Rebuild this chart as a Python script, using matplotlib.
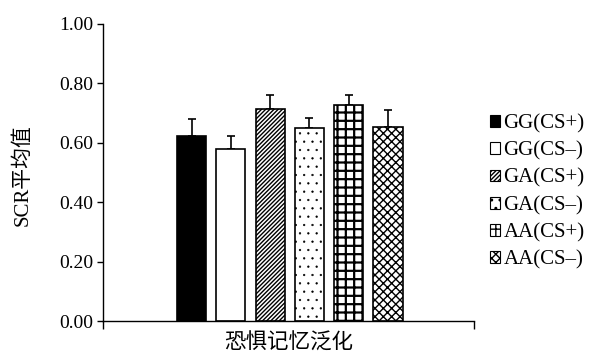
import numpy as np
import matplotlib.pyplot as plt

plt.rcParams['font.family'] = ['Liberation Serif', 'Noto Sans CJK SC']
plt.rcParams['hatch.linewidth'] = 1.0
plt.rcParams['hatch.color'] = 'black'

groups = ['GG(CS+)', 'GG(CS–)', 'GA(CS+)', 'GA(CS–)', 'AA(CS+)', 'AA(CS–)']
means = [0.623, 0.578, 0.714, 0.649, 0.726, 0.653]
errs = [0.057, 0.046, 0.047, 0.034, 0.035, 0.056]
fills = ['black', 'white', 'white', 'white', 'white', 'white']
hatches = [None, None, '////////', '..', '++', 'xxxx']
hatch_lw = [1.0, 1.0, 1.0, 0.4, 1.6, 1.0]
yticks = [0.0, 0.2, 0.4, 0.6, 0.8, 1.0]

fig = plt.figure(figsize=(5.89, 3.56), dpi=100)
ax = fig.add_axes([0.1749, 0.0983, 0.6299, 0.8343])

xs = np.arange(len(groups))
bars = ax.bar(xs, means, width=0.74, color=fills, edgecolor='black',
              linewidth=1.2, label=groups, zorder=2)
for b, h, lw in zip(bars, hatches, hatch_lw):
    if h:
        b.set_hatch(h)
        if hasattr(b, 'set_hatch_linewidth'):
            b.set_hatch_linewidth(lw)
ax.errorbar(xs, means, yerr=[np.zeros(len(errs)), errs], fmt='none',
            ecolor='black', elinewidth=1.2, capsize=2.6, capthick=1.2, zorder=1)

ax.set_xlim(-2.252, 7.188)
ax.set_ylim(0, 1.0)
ax.set_yticks(yticks)
ax.set_yticklabels(['%.2f' % v for v in yticks], fontsize=14)
ax.set_xticks(ax.get_xlim())
ax.set_xticklabels([])
ax.tick_params(axis='y', direction='out', length=4.5, width=1.0,
               color='black', pad=2.5)
ax.tick_params(axis='x', direction='out', length=6, width=1.0, color='black')
for s in ['top', 'right']:
    ax.spines[s].set_visible(False)
for s in ['left', 'bottom']:
    ax.spines[s].set_linewidth(1.0)

ax.set_xlabel('恐惧记忆泛化', fontsize=15.5, family=['Noto Sans CJK SC'])
ax.xaxis.set_label_coords(0.5, -0.035)
ax.set_ylabel('SCR平均值', fontsize=15)
ax.yaxis.set_label_coords(-0.19, 0.49)

leg = fig.legend(handles=list(bars), labels=groups, loc='upper left',
                 bbox_to_anchor=(0.832, 0.679), frameon=False, fontsize=15,
                 handlelength=0.5, handleheight=0.5, handletextpad=0.15,
                 labelspacing=0.38, borderaxespad=0, borderpad=0)
for p in leg.get_patches():
    p.set_linewidth(0.8)

fig.savefig('out.png', dpi=100)
